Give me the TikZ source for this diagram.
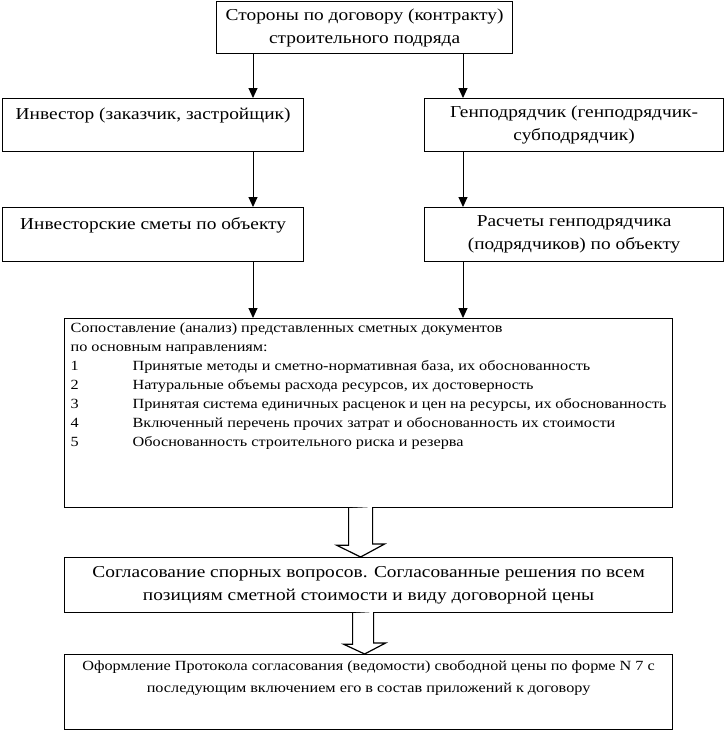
\documentclass[tikz,border=0pt]{standalone}
\usepackage{fontspec}
\setmainfont[FakeStretch=1.16]{Liberation Serif}
\usetikzlibrary{arrows.meta, calc}

\begin{document}
\begin{tikzpicture}[x=1pt, y=-1pt, thick,
    box/.style={draw, line width=1.2pt, anchor=north west, inner sep=0pt, align=center},
    link/.style={line width=1pt, -{Triangle[length=10pt, width=9pt]}},
    fat/.style={line width=1.2pt, fill=white}]
    \useasboundingbox (0,0) rectangle (728,731);
    \fontsize{16.7}{23}\selectfont
    % upper part
    \node[box, minimum width=296, minimum height=52] (parties) at (216,1)
        {Стороны по договору (контракту)\\строительного подряда};
    \node[box, minimum width=301, minimum height=53] (investor) at (2,98)
        {Инвестор (заказчик, застройщик)\\\mbox{}};
    \node[box, minimum width=299, minimum height=53] (general) at (424,98)
        {Генподрядчик (генподрядчик-\\субподрядчик)};
    \node[box, minimum width=301, minimum height=54] (estim) at (2,207)
        {Инвесторские сметы по объекту\\\mbox{}};
    \node[box, minimum width=299, minimum height=54] (calcs) at (424,207)
        {Расчеты генподрядчика\\(подрядчиков) по объекту};
    % comparison box
    \node[box, minimum width=608, minimum height=189, align=left] (compare) at (64,318)
        {\fontsize{14}{19}\selectfont
         \begin{minipage}[t][185pt][t]{596pt}
         \vspace{2pt}
         Сопоставление (анализ) представленных сметных документов\\
         по основным направлениям:\\
         \makebox[62pt][l]{1}Принятые методы и сметно-нормативная база, их обоснованность\\
         \makebox[62pt][l]{2}Натуральные объемы расхода ресурсов, их достоверность\\
         \makebox[62pt][l]{3}Принятая система единичных расценок и цен на ресурсы, их обоснованность\\
         \makebox[62pt][l]{4}Включенный перечень прочих затрат и обоснованность их стоимости\\
         \makebox[62pt][l]{5}Обоснованность строительного риска и резерва
         \end{minipage}};
    \node[box, minimum width=608, minimum height=55] (agree) at (64,557)
        {Согласование спорных вопросов. Согласованные решения по всем\\позициям сметной стоимости и виду договорной цены};
    \node[box, minimum width=608, minimum height=75] (protocol) at (64,654)
        {\fontsize{14}{21.5}\selectfont
         \begin{minipage}[t][71pt][t]{600pt}\centering
         \vspace{4pt}
         Оформление Протокола согласования (ведомости) свободной цены по форме N 7 с\\
         последующим включением его в состав приложений к договору
         \end{minipage}};
    % thin arrows
    \coordinate (left) at (253,0);
    \coordinate (right) at (463,0);
    \draw[link] (parties.south -| left) -- (investor.north -| left);
    \draw[link] (parties.south -| right) -- (general.north -| right);
    \draw[link] (investor.south -| left) -- (estim.north -| left);
    \draw[link] (general.south -| right) -- (calcs.north -| right);
    \draw[link] (estim.south -| left) -- (compare.north -| left);
    \draw[link] (calcs.south -| right) -- (compare.north -| right);
    % hollow arrows
    \draw[fat] ($(compare.south)+(-20,0)$) -- ++(0,37) -- ++(-12,0) -- ($(agree.north)+(-8,0)$)
        -- ++(24,-13) -- ++(-12,0) -- ++(0,-37);
    \draw[fat] ($(agree.south)+(-16,0)$) -- ++(0,31) -- ++(-9,0) -- ($(protocol.north)+(-4,0)$)
        -- ++(21,-11) -- ++(-12,0) -- ++(0,-31);
\end{tikzpicture}
\end{document}
